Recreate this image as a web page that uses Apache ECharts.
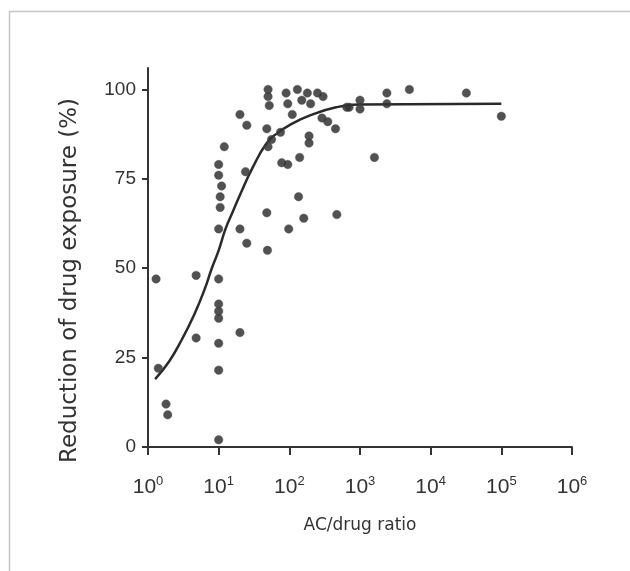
<!DOCTYPE html>
<html>
<head>
<meta charset="utf-8">
<script src="https://cdn.jsdelivr.net/npm/echarts@6/dist/echarts.min.js"></script>
<style>
html,body{margin:0;padding:0;background:#fff;}
#chart{width:630px;height:571px;}
</style>
</head>
<body>
<div id="chart"></div>
<script>
// Scatter data: AC/drug ratio vs reduction of drug exposure (%)
var ratioX = [1.3,1.4,1.8,1.9,4.8,4.8,10,10,10,20,10,10,10,10,10,10.5,20,25,49,48,12,10,10,11,10.5,24,20,25,50,50,52,48,56,50,78,95,140,135,98,160,470,90,95,110,130,150,180,200,250,300,75,190,190,350,450,650,1000,1000,2400,2400,5000,32000,100000,1600,700,290];
var reductionY = [47,22,12,9,30.5,48,29,21.5,2,32,47,40,38,36,61,67,61,57,55,65.5,84,79,76,73,70,77,93,90,100,98,95.5,89,86,84,79.5,79,81,70,61,64,65,99,96,93,100,97,99,96,99,98,88,87,85,91,89,95,97,94.5,99,96,100,99,92.5,81,95,92];
// Fitted curve
var curveX = [1.26,2,3,4.5,6.3,8,10,12.5,16,20,30,48,70,100,200,460,1000,100000];
var curveY = [19,24,30,37,44,50,55,61,66,70.5,78,85,88,90,92.8,95,95.8,96];
var yTicks = [0,25,50,75,100];

var scatterData = ratioX.map(function(x,i){return [x, reductionY[i]];});
var curveData = curveX.map(function(x,i){return [x, curveY[i]];});

var chart = echarts.init(document.getElementById('chart'));
chart.setOption({
  animation:false,
  backgroundColor:'#fff',
  graphic:[{
    type:'polyline', silent:true,
    shape:{points:[[9.5,571],[9.5,11.5],[630,11.5]]},
    style:{stroke:'#c6c6c6', lineWidth:1.5, fill:null}
  }],
  grid:{left:148, right:58, top:68, bottom:124},
  xAxis:{
    type:'log', logBase:10, min:1, max:1000000, interval:1,
    name:'AC/drug ratio', nameLocation:'middle', nameGap:70,
    nameTextStyle:{fontFamily:'DejaVu Sans', fontSize:17, color:'#333'},
    axisLine:{lineStyle:{color:'#333', width:2}},
    axisTick:{show:true, length:8, lineStyle:{color:'#333', width:2}},
    splitLine:{show:false},
    minorTick:{show:false},
    axisLabel:{
      margin:28,
      formatter:function(v){
        var e = Math.round(Math.log10(v));
        return '{b|10}{s|' + e + '}';
      },
      rich:{
        b:{fontFamily:'Liberation Sans', fontSize:21, color:'#333'},
        s:{fontFamily:'Liberation Sans', fontSize:13, color:'#333', padding:[0,0,12,0]}
      }
    }
  },
  yAxis:{
    type:'value', min:0, max:106,
    name:'Reduction of drug exposure (%)', nameLocation:'middle', nameGap:66,
    nameTextStyle:{fontFamily:'DejaVu Sans', fontSize:23, color:'#333', padding:[0,46,0,0]},
    axisLine:{show:true, lineStyle:{color:'#333', width:2}},
    axisTick:{show:true, length:6, customValues:yTicks, lineStyle:{color:'#333', width:2}},
    axisLabel:{customValues:yTicks, margin:12, fontFamily:'Liberation Sans', fontSize:19, color:'#333'},
    splitLine:{show:false}
  },
  series:[
    {
      type:'line', data:curveData, smooth:true, showSymbol:false, symbol:'none',
      lineStyle:{color:'#2a2a2a', width:2.5}, z:2
    },
    {
      type:'scatter', data:scatterData, symbol:'circle', symbolSize:8.5,
      itemStyle:{color:'#333', opacity:0.85, borderColor:'#555', borderWidth:0.5}, z:3
    }
  ]
});
</script>
</body>
</html>
